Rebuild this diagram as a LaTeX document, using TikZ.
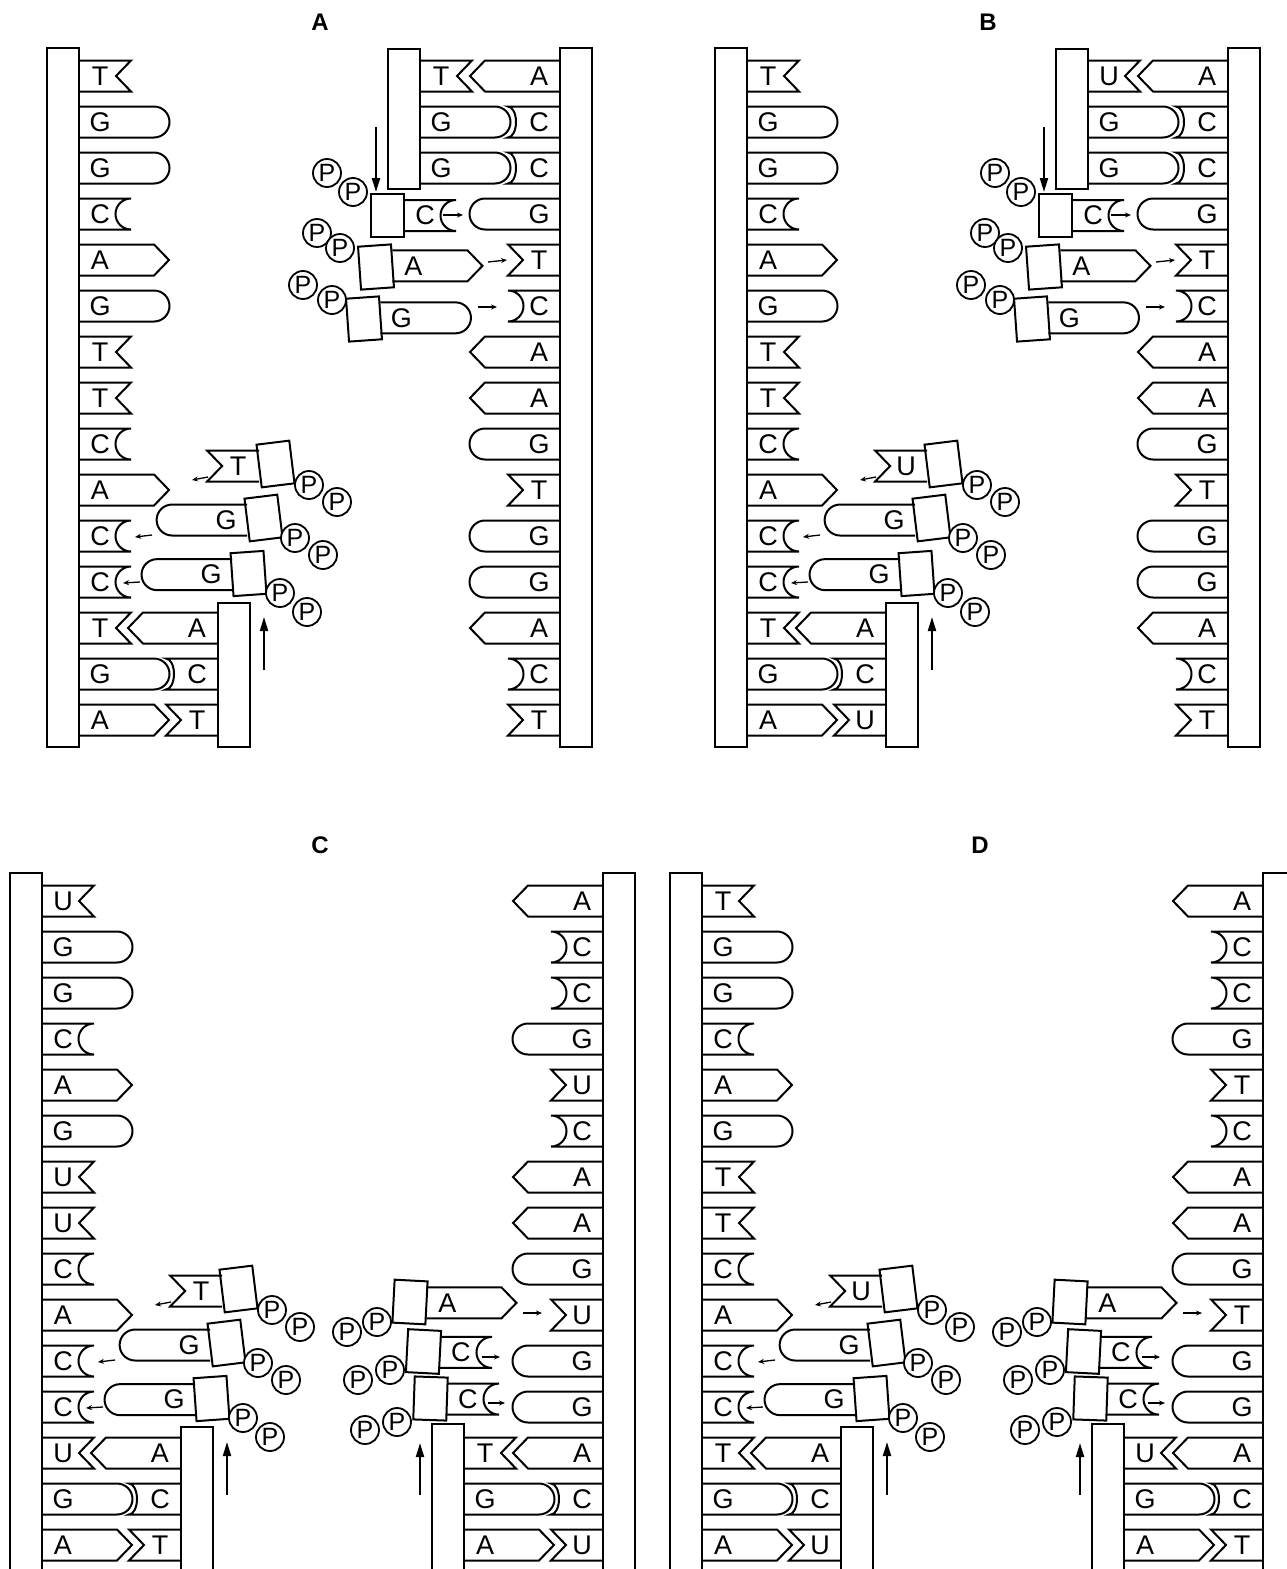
\documentclass[tikz,border=0pt]{standalone}
\usepackage{fontspec}
\setmainfont{Liberation Sans}
\usetikzlibrary{arrows.meta}
\tikzset{
  lbl/.style={font=\fontsize{27}{27}\selectfont, inner sep=0pt, anchor=center},
  ttl/.style={font=\bfseries\fontsize{24}{24}\selectfont, inner sep=0pt},
  pcirc/.style={circle, draw, fill=white, minimum size=28pt, inner sep=0pt, line width=1.8pt, font=\fontsize{25}{25}\selectfont},
  sarr/.style={line width=1.3pt, -{Stealth[length=6pt,width=5pt]}},
  barr/.style={line width=2pt, -{Triangle[length=14pt,width=8pt]}},
  pics/Apt/.style={code={\draw (0,-15.5) -- (75,-15.5) -- (90,0) -- (75,15.5) -- (0,15.5); \node[lbl] at (21,0) {#1};}},
  pics/Grd/.style={code={\draw (0,-15.5) -- (75,-15.5) .. controls (83.56,-15.5) and (90.5,-8.56) .. (90.5,0) .. controls (90.5,8.56) and (83.56,15.5) .. (75,15.5) -- (0,15.5); \node[lbl] at (21,0) {#1};}},
  pics/Tv/.style={code={\draw (0,-15.5) -- (52,-15.5) -- (37,0) -- (52,15.5) -- (0,15.5); \node[lbl] at (21,0) {#1};}},
  pics/Cc/.style={code={\draw (0,-15.5) -- (52,-15.5) .. controls (43.44,-15.5) and (36.5,-8.56) .. (36.5,0) .. controls (36.5,8.56) and (43.44,15.5) .. (52,15.5) -- (0,15.5); \node[lbl] at (21,0) {#1};}},
  pics/Ccs/.style={code={\draw (0,-15.5) -- (52,-15.5) .. controls (47.6,-15.5) and (44,-8.56) .. (44,0) .. controls (44,8.56) and (47.6,15.5) .. (52,15.5) -- (0,15.5); \node[lbl] at (21,0) {#1};}}
}
\newcommand\basecol[4]{%
  \foreach \bt/\bl [count=\bi from 0] in {#4} {%
    \pgfmathsetmacro\yy{#2+46*\bi}%
    \edef\tmp{\noexpand\pic[xscale=#3] at (#1,\yy) {\bt=\bl};}\tmp}}
\newcommand\nucR[5]{\begin{scope}[shift={(#1,#2)},rotate=#3]
  \draw[fill=white] (-16.5,-21.5) rectangle (16.5,21.5);
  \pic at (16.5,0) {#4=#5};\end{scope}}
\newcommand\nucL[5]{\begin{scope}[shift={(#1,#2)},rotate=#3]
  \draw[fill=white] (-16.5,-21.5) rectangle (16.5,21.5);
  \pic[xscale=-1] at (-16.5,0) {#4=#5};\end{scope}}
\newcommand\Pp[4]{\node[pcirc] at (#1,#2) {P}; \node[pcirc] at (#3,#4) {P};}
\newcommand\arr[5]{\draw[#1] (#2,#3) -- (#4,#5);}

\newcommand\panelAB[5]{%
\begin{scope}[shift={(#1,0)}]
  \node[ttl] (t#2) at (320,22) {#2};
  \draw (47,48) rectangle (79,747);
  \draw (560,48) rectangle (592,747);
  \basecol{79}{76}{1}{Tv/T,Grd/G,Grd/G,Cc/C,Apt/A,Grd/G,Tv/T,Tv/T,Cc/C,Apt/A,Cc/C,Cc/C,Tv/T,Grd/G,Apt/A}
  \basecol{560}{76}{-1}{Apt/A,Ccs/C,Ccs/C,Grd/G,Tv/T,Cc/C,Apt/A,Apt/A,Grd/G,Tv/T,Grd/G,Grd/G,Apt/A,Cc/C,Tv/T}
  \draw (388,49) rectangle (420,189);
  \basecol{420}{76}{1}{Tv/#3,Grd/G,Grd/G}
  \draw (218,603) rectangle (250,747);
  \basecol{218}{628}{-1}{Apt/A,Ccs/C,Tv/#5}
  % incoming, top right
  \nucR{364}{319}{4}{Grd}{G}
  \nucR{376}{267}{4}{Apt}{A}
  \nucR{387.5}{215.5}{0}{Cc}{C}
  \Pp{327}{173}{353}{192}
  \Pp{317}{233}{340}{248}
  \Pp{303}{285}{332}{300}
  \arr{barr}{376}{127}{376}{192}
  \arr{sarr}{443}{215}{463}{215}
  \arr{sarr}{488}{262}{507}{260}
  \arr{sarr}{478}{307}{497}{307}
  % incoming, bottom left
  \nucL{275.5}{464}{7}{Tv}{#4}
  \nucL{263.5}{518}{7}{Grd}{G}
  \nucL{248.5}{573.5}{4}{Grd}{G}
  \Pp{309}{485}{337}{502}
  \Pp{295}{538}{323}{555}
  \Pp{280}{593}{307}{612}
  \arr{sarr}{208}{477}{192}{480}
  \arr{sarr}{152}{535}{135}{537}
  \arr{sarr}{140}{582}{123}{583}
  \arr{barr}{264}{670}{264}{617}
\end{scope}}

\newcommand\panelCD[7]{%
\begin{scope}[shift={(#1,0)}]
  \node[ttl] (t#2) at (320,845) {#2};
  \draw (10,873) rectangle (42,1620);
  \draw (603,873) rectangle (635,1620);
  \basecol{42}{901}{1}{#3}
  \basecol{603}{901}{-1}{#4}
  \draw (181,1427) rectangle (213,1620);
  \basecol{181}{1453}{-1}{Apt/A,Ccs/C,Tv/#5}
  \nucL{238.5}{1289}{7}{Tv}{#6}
  \nucL{226.5}{1343}{7}{Grd}{G}
  \nucL{211.5}{1398.5}{4}{Grd}{G}
  \Pp{272}{1310}{300}{1327}
  \Pp{258}{1363}{286}{1380}
  \Pp{243}{1418}{270}{1437}
  \arr{sarr}{171}{1302}{155}{1305}
  \arr{sarr}{115}{1360}{98}{1362}
  \arr{sarr}{103}{1407}{86}{1408}
  \arr{barr}{227}{1495}{227}{1442}
  \draw (432,1424) rectangle (464,1620);
  \basecol{464}{1453}{1}{Tv/#7,Grd/G,Apt/A}
  \nucR{430.5}{1398.5}{-2}{Cc}{C}
  \nucR{423.5}{1351.5}{-3}{Cc}{C}
  \nucR{410}{1302}{-3}{Apt}{A}
  \Pp{347}{1332}{377}{1322}
  \Pp{358}{1380}{390}{1370}
  \Pp{365}{1430}{397}{1422}
  \arr{sarr}{523}{1313}{542}{1313}
  \arr{sarr}{482}{1357}{500}{1357}
  \arr{sarr}{488}{1403}{505}{1403}
  \arr{barr}{420}{1495}{420}{1443}
\end{scope}}

\begin{document}
\begin{tikzpicture}[x=1pt,y=-1pt,line width=2pt]
\useasboundingbox (0,0) rectangle (1287,1569);
\clip (0,0) rectangle (1287,1569);
\panelAB{0}{A}{T}{T}{T}
\panelAB{668}{B}{U}{U}{U}
\panelCD{0}{C}{Tv/U,Grd/G,Grd/G,Cc/C,Apt/A,Grd/G,Tv/U,Tv/U,Cc/C,Apt/A,Cc/C,Cc/C,Tv/U,Grd/G,Apt/A}{Apt/A,Cc/C,Cc/C,Grd/G,Tv/U,Cc/C,Apt/A,Apt/A,Grd/G,Tv/U,Grd/G,Grd/G,Apt/A,Ccs/C,Tv/U}{T}{T}{T}
\panelCD{660}{D}{Tv/T,Grd/G,Grd/G,Cc/C,Apt/A,Grd/G,Tv/T,Tv/T,Cc/C,Apt/A,Cc/C,Cc/C,Tv/T,Grd/G,Apt/A}{Apt/A,Cc/C,Cc/C,Grd/G,Tv/T,Cc/C,Apt/A,Apt/A,Grd/G,Tv/T,Grd/G,Grd/G,Apt/A,Ccs/C,Tv/T}{U}{U}{U}
\end{tikzpicture}
\end{document}
